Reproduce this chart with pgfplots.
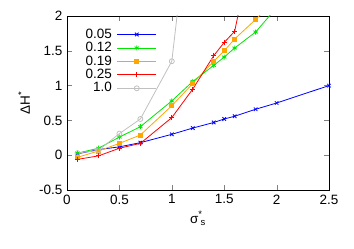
\documentclass[border=0pt]{standalone}
\usepackage{pgfplots}
\pgfplotsset{compat=1.18}
\usepackage{fontspec}
\setmainfont{Liberation Sans}
\definecolor{cblue}{RGB}{0,0,255}
\definecolor{cgreen}{RGB}{0,230,0}
\definecolor{corange}{RGB}{255,165,0}
\definecolor{cred}{RGB}{255,0,0}
\definecolor{cgray}{RGB}{192,192,192}
\begin{document}
\fontsize{13.5}{15}\selectfont
\begin{tikzpicture}
\begin{axis}[
  scale only axis, width=262pt, height=174pt,
  xmin=0, xmax=2.5, ymin=-0.5, ymax=2,
  xtick={0,0.5,1,1.5,2,2.5}, ytick={-0.5,0,0.5,1,1.5,2},
  tick align=inside, major tick length=5pt,
  /pgf/number format/assume math mode=true,
  tick label style={font=\fontsize{13.5}{15}\selectfont},
  label style={font=\fontsize{13.5}{15}\selectfont},
  xlabel={σ\textsuperscript{*}\kern-0.15em\textsubscript{s}},
  ylabel={ΔH\textsuperscript{*}},
  xlabel style={yshift=2pt},
  ylabel style={yshift=0pt},
  every axis plot/.append style={line width=0.8pt},
  mark size=2.5pt,
  legend plot pos=right,
  legend cell align=right,
  legend image code/.code={\draw[mark repeat=2,mark phase=2] plot coordinates {(0pt,0pt) (19.5pt,0pt) (39pt,0pt)};},
  legend style={at={(0.055,0.945)}, anchor=north west, draw=none, fill=none,
    font=\fontsize{13.5}{15}\selectfont, row sep=0pt, column sep=4pt,
    nodes={inner sep=1pt}},
]
\addplot[color=cblue, mark=x] coordinates {
(0.1,0.02) (0.3,0.08) (0.5,0.12) (0.7,0.18) (1.0,0.30) (1.2,0.39) (1.4,0.47) (1.5,0.52) (1.6,0.56) (1.8,0.66) (2.0,0.75) (2.5,1.0)};
\addlegendentry{0.05}
\addplot[color=cgreen, mark=asterisk] coordinates {
(0.1,0.03) (0.3,0.10) (0.5,0.26) (0.7,0.41) (1.0,0.78) (1.2,1.06) (1.4,1.29) (1.5,1.41) (1.6,1.54) (1.8,1.77) (2.0,2.12)};
\addlegendentry{0.12}
\addplot[color=corange, mark=square*, mark size=2pt] coordinates {
(0.1,-0.03) (0.3,0.06) (0.5,0.17) (0.7,0.29) (1.0,0.71) (1.2,1.03) (1.4,1.35) (1.5,1.50) (1.6,1.67) (1.8,1.95) (2.0,2.25)};
\addlegendentry{0.19}
\addplot[color=cred, mark=+] coordinates {
(0.1,-0.06) (0.3,-0.01) (0.5,0.10) (0.7,0.17) (1.0,0.54) (1.2,0.95) (1.4,1.43) (1.5,1.62) (1.6,1.78) (1.8,3.24)};
\addlegendentry{0.25}
\addplot[color=cgray, mark=o] coordinates {
(0.1,0.03) (0.3,0.07) (0.5,0.31) (0.7,0.52) (1.0,1.35) (1.2,3.95)};
\addlegendentry{1.0}
\end{axis}
\path ([xshift=-67pt,yshift=-58pt]current axis.south west) rectangle ([xshift=25pt,yshift=16pt]current axis.north east);
\end{tikzpicture}
\end{document}
